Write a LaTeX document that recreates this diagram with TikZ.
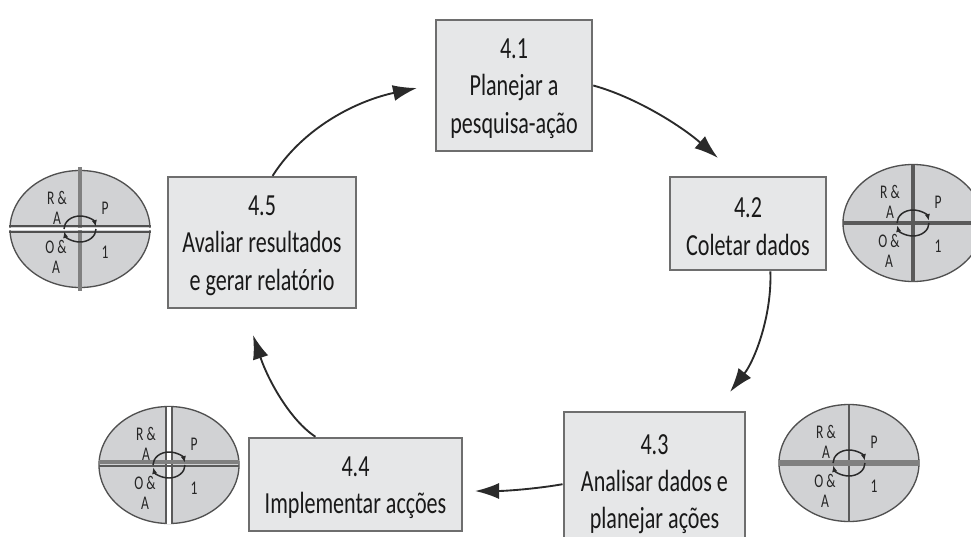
\documentclass[tikz,border=0pt]{standalone}
\usepackage{fontspec}
\setmainfont[FakeStretch=0.72]{Carlito}
\newfontfamily\ovalfont[FakeStretch=0.7]{Carlito}
\usetikzlibrary{arrows.meta}
\definecolor{boxfill}{HTML}{E6E7E8}
\definecolor{boxline}{HTML}{6E6E6E}
\definecolor{ovalfill}{HTML}{D1D2D4}
\definecolor{ovalline}{HTML}{505050}
\definecolor{crossline}{HTML}{808080}
\definecolor{crossdark}{HTML}{5A5A5A}
\definecolor{inkline}{HTML}{2A2A2A}
\newcommand{\topgap}{\rule{0pt}{19.5pt}}
\tikzset{
  x=0.75pt,y=-0.75pt,
  stagebox/.style={draw=boxline,line width=1.9pt,fill=boxfill,align=center,inner sep=0pt,
    text=black!90,font=\fontsize{23}{28}\selectfont},
  flow/.style={draw=inkline,line width=1.4pt,-{Latex[length=24*0.75pt,width=16*0.75pt]}},
  ovaltext/.style={font=\ovalfont\fontsize{14.5}{15}\selectfont,text=black!85,align=center,inner sep=0pt},
  looparrow/.style={draw=inkline,line width=1.1pt,-{Latex[length=5pt,width=4pt]}},
  pics/cycleoval/.style={code={
    \path[draw=ovalline,line width=1pt,fill=ovalfill] (0,0) ellipse [x radius=70,y radius=58.5];
    #1
    \draw[looparrow] (-16,0) arc [start angle=180,end angle=350,x radius=16,y radius=13];
    \draw[looparrow] (16,0) arc [start angle=0,end angle=170,x radius=16,y radius=13];
    \node[ovaltext] (-ra) at (-23,-21) {R \&\\A};
    \node[ovaltext] (-p) at (25,-21) {P};
    \node[ovaltext] (-oa) at (-24,28) {O \&\\A};
    \node[ovaltext] (-i) at (25,23) {1};
  }}
}
\begin{document}
\begin{tikzpicture}
\useasboundingbox (0,0) rectangle (971,536);
\node[stagebox,minimum width=117pt,minimum height=98pt] (a) at (514,85.5) {\topgap 4.1\\Planejar a\\pesquisa-ação};
\node[stagebox,minimum width=117pt,minimum height=70pt] (b) at (748,223.5) {\topgap 4.2\\Coletar dados};
\node[stagebox,minimum width=136pt,minimum height=103.5pt] (c) at (654.5,481) {\topgap 4.3\\Analisar dados e\\planejar ações};
\node[stagebox,minimum width=160pt,minimum height=69.75pt] (d) at (355.5,484.5) {\topgap 4.4\\Implementar acções};
\node[stagebox,minimum width=141pt,minimum height=98pt] (e) at (262,242.5) {\topgap 4.5\\Avaliar resultados\\e gerar relatório};
\coordinate (tipb) at (718,158);
\coordinate (tipc) at (730,392);
\coordinate (tipd) at (475,491);
\coordinate (tipe) at (253,335);
\coordinate (tipa) at (417,88);
\draw[flow] (a.east) .. controls (635,97) and (680,125) .. (tipb);
\draw[flow] (b.-65) .. controls (772,315) and (755,360) .. (tipc);
\draw[flow] (c.182) .. controls (535,489) and (505,491) .. (tipd);
\draw[flow] (d.130) .. controls (290,420) and (268,380) .. (tipe);
\draw[flow] (e.81) .. controls (305,125) and (360,100) .. (tipa);
\pic (ovale) at (80,229) {cycleoval={
  \draw[crossline,line width=3.4pt] (0,-62) -- (0,62);
  \draw[ovalline,line width=1.1pt] (-71,-3) -- (71,-3) (-71,3) -- (71,3);
  \draw[white,line width=2.2pt] (-71,0) -- (71,0);
}};
\pic (ovalb) at (913,223) {cycleoval={
  \draw[crossdark,line width=2.6pt] (0,-58.5) -- (0,58.5);
  \draw[crossdark,line width=3.6pt] (-70,0) -- (70,0);
}};
\pic (ovalc) at (849,463) {cycleoval={
  \draw[crossdark,line width=1.9pt] (0,-58.5) -- (0,58.5);
  \draw[crossline,line width=4pt] (-70,0) -- (70,0);
}};
\pic (ovald) at (169,465) {cycleoval={
  \draw[white,line width=3.4pt] (0,-58.5) -- (0,58.5);
  \draw[crossdark,line width=1pt] (-3,-58.5) -- (-3,58.5) (3,-58.5) -- (3,58.5);
  \draw[crossline,line width=2.6pt] (-70,-3) -- (70,-3);
  \draw[crossdark,line width=1.3pt] (-70,1) -- (70,1);
}};
\end{tikzpicture}
\end{document}
